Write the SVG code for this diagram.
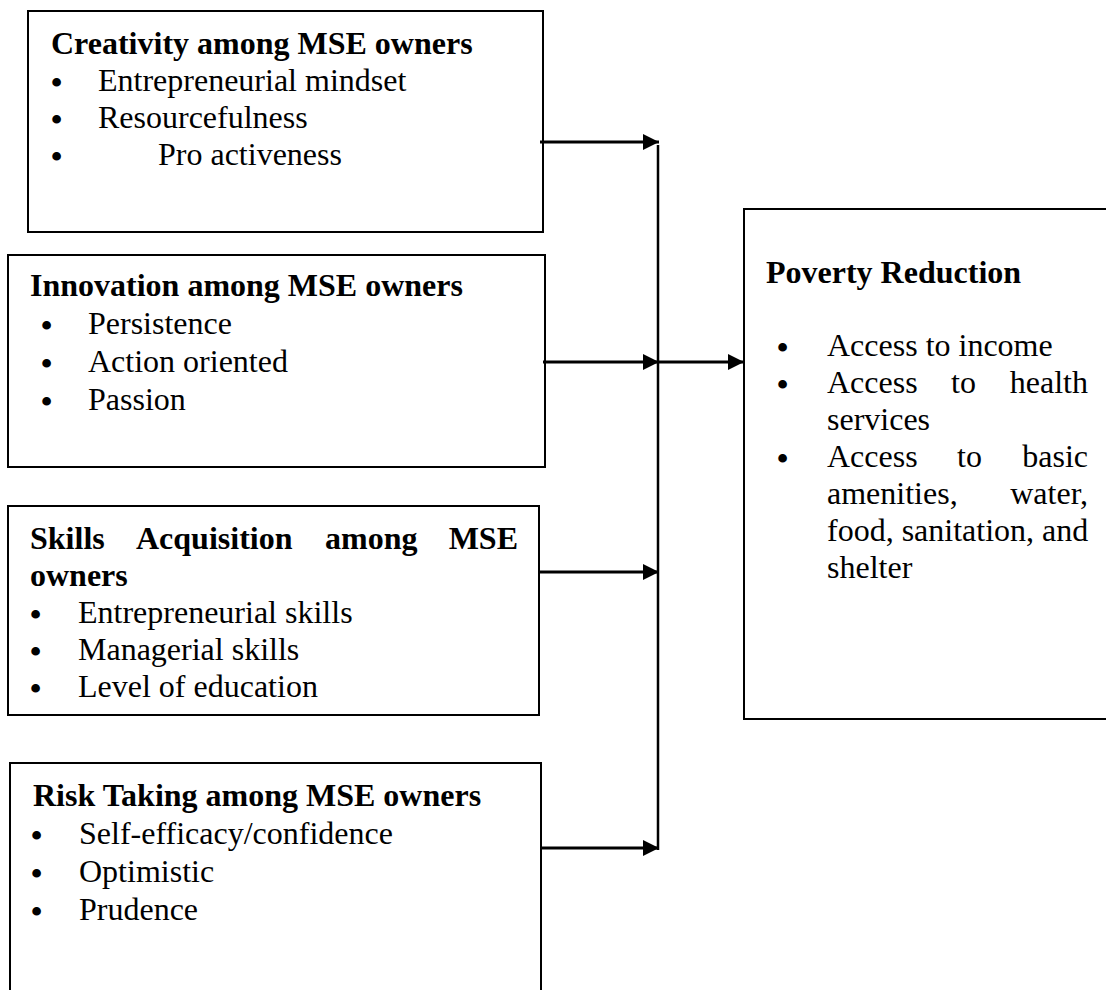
<svg xmlns="http://www.w3.org/2000/svg" width="1106" height="990" viewBox="0 0 1106 990">
<style>
.box{fill:#fff;stroke:#000;stroke-width:2}
.t{font-family:"Liberation Serif","Times New Roman",serif;font-size:32px;fill:#000}
.b{font-weight:bold}
.d{font-family:"Liberation Serif","Times New Roman",serif;font-size:32px;font-weight:bold;fill:#000}
.con{stroke:#000;stroke-width:3;fill:none}
.vline{stroke:#000;stroke-width:2.5;fill:none}
</style>
<defs>
<marker id="ah" markerUnits="userSpaceOnUse" markerWidth="16" markerHeight="16" refX="16" refY="8" orient="auto">
<path d="M0,0 L16,8 L0,16 Z" fill="#000"/>
</marker>
</defs>
<rect width="1106" height="990" fill="#fff"/>

<g id="creativity">
<rect class="box" x="28" y="11" width="515" height="221"/>
<text class="t b" x="51" y="54">Creativity among MSE owners</text>
<text class="d" x="51" y="93">•</text><text class="t" x="98" y="91">Entrepreneurial mindset</text>
<text class="d" x="51" y="130">•</text><text class="t" x="98" y="128">Resourcefulness</text>
<text class="d" x="51" y="167">•</text><text class="t" x="158" y="165">Pro activeness</text>
</g>

<g id="innovation">
<rect class="box" x="8" y="255" width="537" height="212"/>
<text class="t b" x="30" y="296">Innovation among MSE owners</text>
<text class="d" x="41" y="336">•</text><text class="t" x="88" y="334">Persistence</text>
<text class="d" x="41" y="374">•</text><text class="t" x="88" y="372">Action oriented</text>
<text class="d" x="41" y="412">•</text><text class="t" x="88" y="410">Passion</text>
</g>

<g id="skills">
<rect class="box" x="8" y="506" width="531" height="209"/>
<text class="t b" x="30" y="549">Skills</text>
<text class="t b" x="136" y="549">Acquisition</text>
<text class="t b" x="325" y="549">among</text>
<text class="t b" x="518" y="549" text-anchor="end">MSE</text>
<text class="t b" x="30" y="586">owners</text>
<text class="d" x="30" y="625">•</text><text class="t" x="78" y="623">Entrepreneurial skills</text>
<text class="d" x="30" y="662">•</text><text class="t" x="78" y="660">Managerial skills</text>
<text class="d" x="30" y="699">•</text><text class="t" x="78" y="697">Level of education</text>
</g>

<g id="risk">
<rect class="box" x="10" y="763" width="531" height="240"/>
<text class="t b" x="33" y="806">Risk Taking among MSE owners</text>
<text class="d" x="31" y="846">•</text><text class="t" x="79" y="844">Self-efficacy/confidence</text>
<text class="d" x="31" y="884">•</text><text class="t" x="79" y="882">Optimistic</text>
<text class="d" x="31" y="922">•</text><text class="t" x="79" y="920">Prudence</text>
</g>

<g id="poverty">
<rect class="box" x="744" y="209" width="380" height="510"/>
<text class="t b" x="766" y="283">Poverty Reduction</text>
<text class="d" x="777" y="358">•</text><text class="t" x="827" y="356">Access to income</text>
<text class="d" x="777" y="395">•</text>
<text class="t" x="827" y="393">Access</text><text class="t" x="951" y="393">to</text><text class="t" x="1088" y="393" text-anchor="end">health</text>
<text class="t" x="827" y="430">services</text>
<text class="d" x="777" y="469">•</text>
<text class="t" x="827" y="467">Access</text><text class="t" x="957" y="467">to</text><text class="t" x="1088" y="467" text-anchor="end">basic</text>
<text class="t" x="827" y="504">amenities,</text><text class="t" x="1088" y="504" text-anchor="end">water,</text>
<text class="t" x="827" y="541">food, sanitation, and</text>
<text class="t" x="827" y="578">shelter</text>
</g>

<g id="connectors">
<line class="vline" x1="658" y1="145" x2="658" y2="850"/>
<line class="con" x1="540" y1="142" x2="659" y2="142" marker-end="url(#ah)"/>
<line class="con" x1="543" y1="362" x2="659" y2="362" marker-end="url(#ah)"/>
<line class="con" x1="658" y1="362" x2="744" y2="362" marker-end="url(#ah)"/>
<line class="con" x1="539" y1="572" x2="659" y2="572" marker-end="url(#ah)"/>
<line class="con" x1="541" y1="848" x2="659" y2="848" marker-end="url(#ah)"/>
</g>
</svg>
